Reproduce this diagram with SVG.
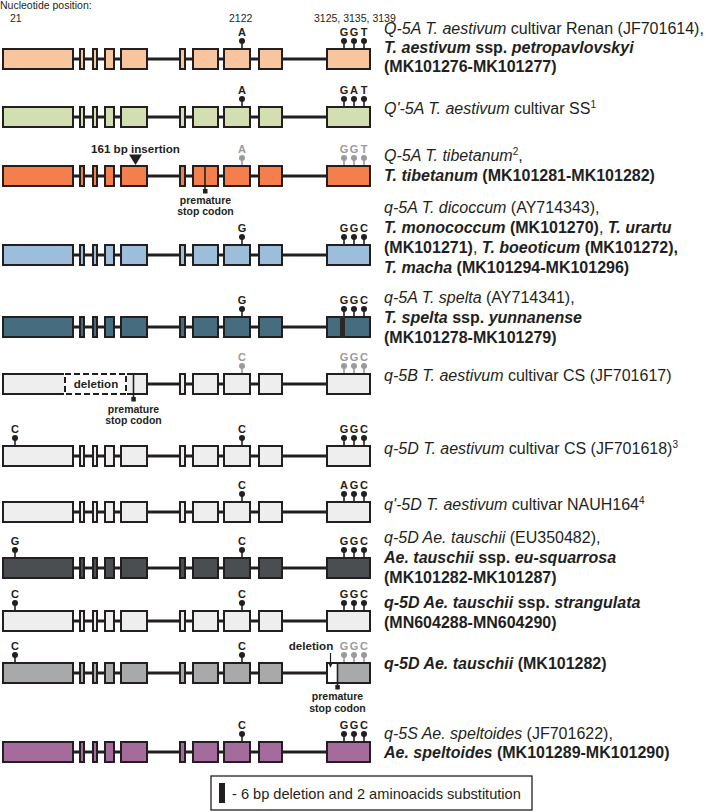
<svg xmlns="http://www.w3.org/2000/svg" xmlns:xlink="http://www.w3.org/1999/xlink" width="709" height="812" viewBox="0 0 709 812">
<style>
text{font-family:"Liberation Sans",Arial,sans-serif;fill:#231f20}
.ex{stroke:#231f20;stroke-width:2}
.intron{stroke:#231f20;stroke-width:3;fill:none}
.pl{font-size:11px;font-weight:bold;text-anchor:middle}
.g{fill:#9a9a9a;color:#9a9a9a}
.k{color:#231f20}
.lab{font-size:16px}
.i{font-style:italic}
.b{font-weight:bold}
.bi{font-weight:bold;font-style:italic}
.sm{font-size:10.5px}
.note{font-size:10.5px;font-weight:bold;text-anchor:middle}
.sup{font-size:10px}
</style>
<defs>
<g id="gene">
<path class="intron" d="M74,11H326"/>
<rect class="ex" x="3" y="1" width="70" height="20"/>
<rect class="ex" x="80" y="1" width="4" height="20"/>
<rect class="ex" x="93" y="1" width="4" height="20"/>
<rect class="ex" x="105" y="1" width="9" height="20"/>
<rect class="ex" x="121" y="1" width="26" height="20"/>
<rect class="ex" x="180" y="1" width="5" height="20"/>
<rect class="ex" x="193" y="1" width="25" height="20"/>
<rect class="ex" x="224" y="1" width="26" height="20"/>
<rect class="ex" x="259" y="1" width="23" height="20"/>
<rect class="ex" x="327" y="1" width="43" height="20"/>
</g>
<g id="pin"><path d="M0,-7V0" stroke="currentColor" stroke-width="1.6"/><circle cy="-7" r="3" fill="currentColor" stroke="none"/></g>
<marker id="arr" viewBox="0 0 10 10" refX="9" refY="5" markerWidth="5" markerHeight="5" orient="auto"><path d="M0,0L10,5L0,10z" fill="#231f20"/></marker>
</defs>

<g id="header">
<text class="sm" x="0" y="9">Nucleotide position:</text>
<text class="sm" x="10" y="22">21</text>
<text class="sm" x="229" y="22">2122</text>
<text class="sm" x="314" y="22">3125, 3135, 3139</text>
</g>

<g id="row1">
<g transform="translate(0,48)">
<use xlink:href="#gene" fill="#F9C59E"/>
<g class="k"><use xlink:href="#pin" x="242"/><use xlink:href="#pin" x="344"/><use xlink:href="#pin" x="354"/><use xlink:href="#pin" x="364"/></g>
<text class="pl" x="242" y="-12">A</text><text class="pl" x="344" y="-12">G</text><text class="pl" x="354" y="-12">G</text><text class="pl" x="364" y="-12">T</text>
</g>
<text class="lab" x="384" y="34"><tspan class="i">Q-5A T. aestivum</tspan> cultivar Renan (JF701614),</text>
<text class="lab" x="384" y="53"><tspan class="bi">T. aestivum</tspan><tspan class="b"> ssp. </tspan><tspan class="bi">petropavlovskyi</tspan></text>
<text class="lab b" x="384" y="72">(MK101276-MK101277)</text>
</g>

<g id="row2">
<g transform="translate(0,106)">
<use xlink:href="#gene" fill="#D2DFB0"/>
<g class="k"><use xlink:href="#pin" x="242"/><use xlink:href="#pin" x="344"/><use xlink:href="#pin" x="354"/><use xlink:href="#pin" x="364"/></g>
<text class="pl" x="242" y="-12">A</text><text class="pl" x="344" y="-12">G</text><text class="pl" x="354" y="-12">A</text><text class="pl" x="364" y="-12">T</text>
</g>
<text class="lab" x="384" y="114"><tspan class="i">Q'-5A T. aestivum</tspan> cultivar SS<tspan class="sup" dy="-6">1</tspan></text>
</g>

<g id="row3">
<g transform="translate(0,165)">
<use xlink:href="#gene" fill="#F47F4C"/>
<path d="M205,0V26" stroke="#231f20" stroke-width="1.6"/>
<rect x="203" y="24" width="4.5" height="4.5" fill="#231f20"/>
<path d="M129,-10.5H142L135.5,0z" fill="#231f20"/>
<text class="b" x="135.5" y="-12.5" font-size="11.6" text-anchor="middle">161 bp insertion</text>
<text class="note" x="205.5" y="38.5">premature</text>
<text class="note" x="205.5" y="50">stop codon</text>
<g class="g"><use xlink:href="#pin" x="242"/><use xlink:href="#pin" x="344"/><use xlink:href="#pin" x="354"/><use xlink:href="#pin" x="364"/></g>
<g class="g"><text class="pl g" x="242" y="-12">A</text><text class="pl g" x="344" y="-12">G</text><text class="pl g" x="354" y="-12">G</text><text class="pl g" x="364" y="-12">T</text></g>
</g>
<text class="lab" x="384" y="161"><tspan class="i">Q-5A T. tibetanum</tspan><tspan class="sup" dy="-6">2</tspan><tspan dy="6">,</tspan></text>
<text class="lab b" x="384" y="181"><tspan class="i">T. tibetanum</tspan> (MK101281-MK101282)</text>
</g>

<g id="row4">
<g transform="translate(0,244)">
<use xlink:href="#gene" fill="#9DBEDB"/>
<g class="k"><use xlink:href="#pin" x="242"/><use xlink:href="#pin" x="344"/><use xlink:href="#pin" x="354"/><use xlink:href="#pin" x="364"/></g>
<text class="pl" x="242" y="-12">G</text><text class="pl" x="344" y="-12">G</text><text class="pl" x="354" y="-12">G</text><text class="pl" x="364" y="-12">C</text>
</g>
<text class="lab" x="384" y="213"><tspan class="i">q-5A T. dicoccum</tspan> (AY714343),</text>
<text class="lab" x="384" y="233"><tspan class="bi">T. monococcum</tspan><tspan class="b"> (MK101270)</tspan>, <tspan class="bi">T. urartu</tspan></text>
<text class="lab" x="384" y="253"><tspan class="b">(MK101271)</tspan>, <tspan class="bi">T. boeoticum</tspan><tspan class="b"> (MK101272),</tspan></text>
<text class="lab b" x="384" y="273"><tspan class="i">T. macha</tspan> (MK101294-MK101296)</text>
</g>

<g id="row5">
<g transform="translate(0,316)">
<use xlink:href="#gene" fill="#466C80"/>
<rect x="340" y="0" width="5" height="22" fill="#2b2823"/>
<g class="k"><use xlink:href="#pin" x="242"/><use xlink:href="#pin" x="344"/><use xlink:href="#pin" x="354"/><use xlink:href="#pin" x="364"/></g>
<text class="pl" x="242" y="-12">G</text><text class="pl" x="344" y="-12">G</text><text class="pl" x="354" y="-12">G</text><text class="pl" x="364" y="-12">C</text>
</g>
<text class="lab" x="384" y="303"><tspan class="i">q-5A T. spelta</tspan> (AY714341),</text>
<text class="lab" x="384" y="323"><tspan class="bi">T. spelta</tspan><tspan class="b"> ssp. </tspan><tspan class="bi">yunnanense</tspan></text>
<text class="lab b" x="384" y="343">(MK101278-MK101279)</text>
</g>

<g id="row6">
<g transform="translate(0,373)" fill="#EEEEEE">
<path class="intron" d="M148,11H326"/>
<rect class="ex" x="3" y="1" width="144" height="20"/>
<rect x="64" y="-1" width="63" height="24" fill="#fff"/>
<rect x="65" y="1" width="61" height="20" fill="#fff" stroke="#231f20" stroke-width="2" stroke-dasharray="6,3"/>
<rect class="ex" x="180" y="1" width="5" height="20"/>
<rect class="ex" x="193" y="1" width="25" height="20"/>
<rect class="ex" x="224" y="1" width="26" height="20"/>
<rect class="ex" x="259" y="1" width="23" height="20"/>
<rect class="ex" x="327" y="1" width="43" height="20"/>
<text class="b" x="96" y="15" font-size="11.6" text-anchor="middle">deletion</text>
<path d="M133.5,0V26" stroke="#231f20" stroke-width="1.6"/>
<rect x="131.3" y="24" width="4.5" height="4.5" fill="#231f20"/>
<text class="note" x="133.5" y="39.5">premature</text>
<text class="note" x="133.5" y="51">stop codon</text>
<g class="g"><use xlink:href="#pin" x="242"/><use xlink:href="#pin" x="344"/><use xlink:href="#pin" x="354"/><use xlink:href="#pin" x="364"/></g>
<text class="pl g" x="242" y="-12">C</text><text class="pl g" x="344" y="-12">G</text><text class="pl g" x="354" y="-12">G</text><text class="pl g" x="364" y="-12">C</text>
</g>
<text class="lab" x="384" y="381"><tspan class="i">q-5B T. aestivum</tspan> cultivar CS (JF701617)</text>
</g>

<g id="row7">
<g transform="translate(0,445)">
<use xlink:href="#gene" fill="#EEEEEE"/>
<g class="k"><use xlink:href="#pin" x="15"/><use xlink:href="#pin" x="242"/><use xlink:href="#pin" x="344"/><use xlink:href="#pin" x="354"/><use xlink:href="#pin" x="364"/></g>
<text class="pl" x="15" y="-12">C</text><text class="pl" x="242" y="-12">C</text><text class="pl" x="344" y="-12">G</text><text class="pl" x="354" y="-12">G</text><text class="pl" x="364" y="-12">C</text>
</g>
<text class="lab" x="384" y="454"><tspan class="i">q-5D T. aestivum</tspan> cultivar CS (JF701618)<tspan class="sup" dy="-6">3</tspan></text>
</g>

<g id="row8">
<g transform="translate(0,501)">
<use xlink:href="#gene" fill="#EEEEEE"/>
<g class="k"><use xlink:href="#pin" x="242"/><use xlink:href="#pin" x="344"/><use xlink:href="#pin" x="354"/><use xlink:href="#pin" x="364"/></g>
<text class="pl" x="242" y="-12">C</text><text class="pl" x="344" y="-12">A</text><text class="pl" x="354" y="-12">G</text><text class="pl" x="364" y="-12">C</text>
</g>
<text class="lab" x="384" y="510"><tspan class="i">q'-5D T. aestivum</tspan> cultivar NAUH164<tspan class="sup" dy="-6">4</tspan></text>
</g>

<g id="row9">
<g transform="translate(0,557)">
<use xlink:href="#gene" fill="#4B4E51"/>
<g class="k"><use xlink:href="#pin" x="15"/><use xlink:href="#pin" x="242"/><use xlink:href="#pin" x="344"/><use xlink:href="#pin" x="354"/><use xlink:href="#pin" x="364"/></g>
<text class="pl" x="15" y="-12">G</text><text class="pl" x="242" y="-12">C</text><text class="pl" x="344" y="-12">G</text><text class="pl" x="354" y="-12">G</text><text class="pl" x="364" y="-12">C</text>
</g>
<text class="lab" x="384" y="543"><tspan class="i">q-5D Ae. tauschii</tspan> (EU350482),</text>
<text class="lab" x="384" y="563"><tspan class="bi">Ae. tauschii</tspan><tspan class="b"> ssp. </tspan><tspan class="bi">eu-squarrosa</tspan></text>
<text class="lab b" x="384" y="583">(MK101282-MK101287)</text>
</g>

<g id="row10">
<g transform="translate(0,610)">
<use xlink:href="#gene" fill="#EEEEEE"/>
<g class="k"><use xlink:href="#pin" x="15"/><use xlink:href="#pin" x="242"/><use xlink:href="#pin" x="344"/><use xlink:href="#pin" x="354"/><use xlink:href="#pin" x="364"/></g>
<text class="pl" x="15" y="-12">C</text><text class="pl" x="242" y="-12">C</text><text class="pl" x="344" y="-12">G</text><text class="pl" x="354" y="-12">G</text><text class="pl" x="364" y="-12">C</text>
</g>
<text class="lab" x="384" y="608"><tspan class="bi">q-5D Ae. tauschii</tspan><tspan class="b"> ssp. </tspan><tspan class="bi">strangulata</tspan></text>
<text class="lab b" x="384" y="628">(MN604288-MN604290)</text>
</g>

<g id="row11">
<g transform="translate(0,662)">
<use xlink:href="#gene" fill="#A7A9AB"/>
<rect x="328" y="2" width="9" height="18" fill="#fff"/>
<path d="M337.5,0V25" stroke="#231f20" stroke-width="1.6"/>
<rect x="335.3" y="23" width="4.5" height="4.5" fill="#231f20"/>
<text class="note" x="337.5" y="37.5">premature</text>
<text class="note" x="337.5" y="49.5">stop codon</text>
<text class="b" x="311" y="-12" font-size="11.6" text-anchor="middle">deletion</text>
<path d="M330.5,-9V5" stroke="#231f20" stroke-width="1.2" marker-end="url(#arr)"/>
<g class="k"><use xlink:href="#pin" x="15"/><use xlink:href="#pin" x="242"/></g>
<g class="g"><use xlink:href="#pin" x="344"/><use xlink:href="#pin" x="354"/><use xlink:href="#pin" x="364"/></g>
<text class="pl" x="15" y="-12">C</text><text class="pl" x="242" y="-12">C</text><text class="pl g" x="344" y="-12">G</text><text class="pl g" x="354" y="-12">G</text><text class="pl g" x="364" y="-12">C</text>
</g>
<text class="lab b" x="384" y="669"><tspan class="i">q-5D Ae. tauschii</tspan> (MK101282)</text>
</g>

<g id="row12">
<g transform="translate(0,741)">
<use xlink:href="#gene" fill="#A56B9C"/>
<g class="k"><use xlink:href="#pin" x="242"/><use xlink:href="#pin" x="344"/><use xlink:href="#pin" x="354"/><use xlink:href="#pin" x="364"/></g>
<text class="pl" x="242" y="-12">C</text><text class="pl" x="344" y="-12">G</text><text class="pl" x="354" y="-12">G</text><text class="pl" x="364" y="-12">C</text>
</g>
<text class="lab" x="384" y="739"><tspan class="i">q-5S Ae. speltoides</tspan> (JF701622),</text>
<text class="lab b" x="384" y="758"><tspan class="i">Ae. speltoides</tspan> (MK101289-MK101290)</text>
</g>

<g id="legend">
<rect x="211" y="776" width="321" height="34" fill="#fff" stroke="#231f20" stroke-width="1.3"/>
<rect x="219" y="783" width="6" height="20" fill="#231f20"/>
<text x="232" y="799" font-size="14.6">- 6 bp deletion and 2 aminoacids substitution</text>
</g>
</svg>
